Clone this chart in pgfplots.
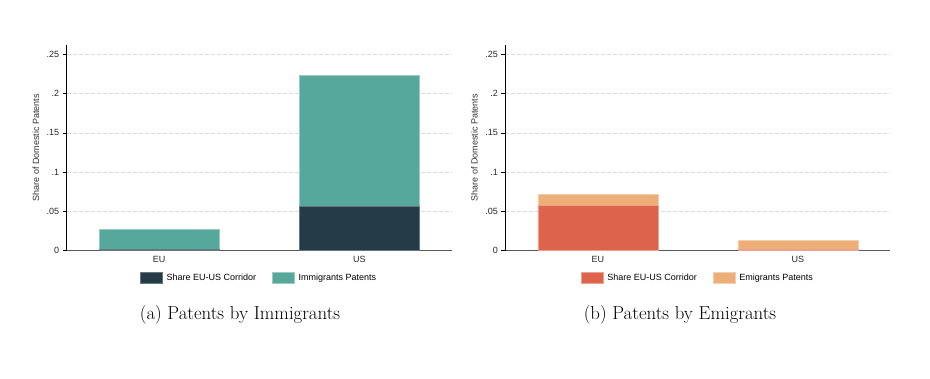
\documentclass[border=0pt]{standalone}
\usepackage{pgfplots}
\pgfplotsset{compat=1.18}
\usepackage{fontspec}
\newfontfamily\arialfont{Liberation Sans}
\definecolor{cdark}{HTML}{263B48}
\definecolor{cteal}{HTML}{55A89A}
\definecolor{cred}{HTML}{DD644B}
\definecolor{corange}{HTML}{EDAE78}
\newcommand{\sm}{\arialfont\fontsize{9}{10.5}\selectfont}
\pgfplotsset{
  mystyle/.style={
    scale only axis, width=385pt, height=205.7pt,
    xmin=-0.462, xmax=1.462, ymin=0, ymax=0.262,
    axis x line*=bottom, axis y line*=left,
    x axis line style={draw=black!65, line width=1.3pt},
    y axis line style={draw=black, line width=0.8pt},
    ytick={0,0.05,0.1,0.15,0.2,0.25},
    yticklabels={0,.05,.1,.15,.2,.25},
    ymajorgrids,
    grid style={dash pattern=on 4pt off 2pt, black!14, line width=0.6pt},
    xtick={0,1}, xticklabels={EU,US},
    major x tick style={draw=none},
    major y tick style={black, line width=0.6pt},
    tick align=outside, major tick length=4pt,
    ticklabel style={font=\sm, text=black!85},
    xticklabel style={yshift=2pt},
    ylabel={Share of Domestic Patents},
    ylabel style={font=\sm, text=black!80, at={(axis description cs:-0.08,0.5)}, anchor=center},
    ybar stacked, bar width=120pt,
    legend style={at={(0.5,-0.131)}, anchor=center, draw=none, legend columns=2, font=\sm,
      /tikz/every even column/.append style={column sep=14pt},
      /tikz/every odd column/.append style={column sep=2pt}},
    legend image code/.code={\fill[#1] (0pt,-5.5pt) rectangle (22pt,5.5pt);},
  }
}
\begin{document}
\begin{tikzpicture}
\useasboundingbox (0,0) rectangle (930pt,378pt);
\begin{axis}[mystyle, at={(66.7pt,127.3pt)}, anchor=south west]
\addplot[fill=cdark, draw=cdark!70!white, line width=0.5pt] coordinates {(0,0.0015) (1,0.0569)};
\addplot[fill=cteal, draw=cteal!60!white, line width=0.5pt] coordinates {(0,0.0257) (1,0.1666)};
\legend{Share EU-US Corridor, Immigrants Patents}
\end{axis}
\begin{axis}[mystyle, at={(505.3pt,127.3pt)}, anchor=south west]
\addplot[fill=cred, draw=cred!60!white, line width=0.5pt] coordinates {(0,0.0573) (1,0.0015)};
\addplot[fill=corange, draw=corange!60!white, line width=0.5pt] coordinates {(0,0.0148) (1,0.0117)};
\legend{Share EU-US Corridor, Emigrants Patents}
\end{axis}
\node[font=\fontsize{18.8}{22}\selectfont] at (240pt,63pt) {(a) Patents by Immigrants};
\node[font=\fontsize{18.8}{22}\selectfont] at (680pt,63pt) {(b) Patents by Emigrants};
\end{tikzpicture}
\end{document}
